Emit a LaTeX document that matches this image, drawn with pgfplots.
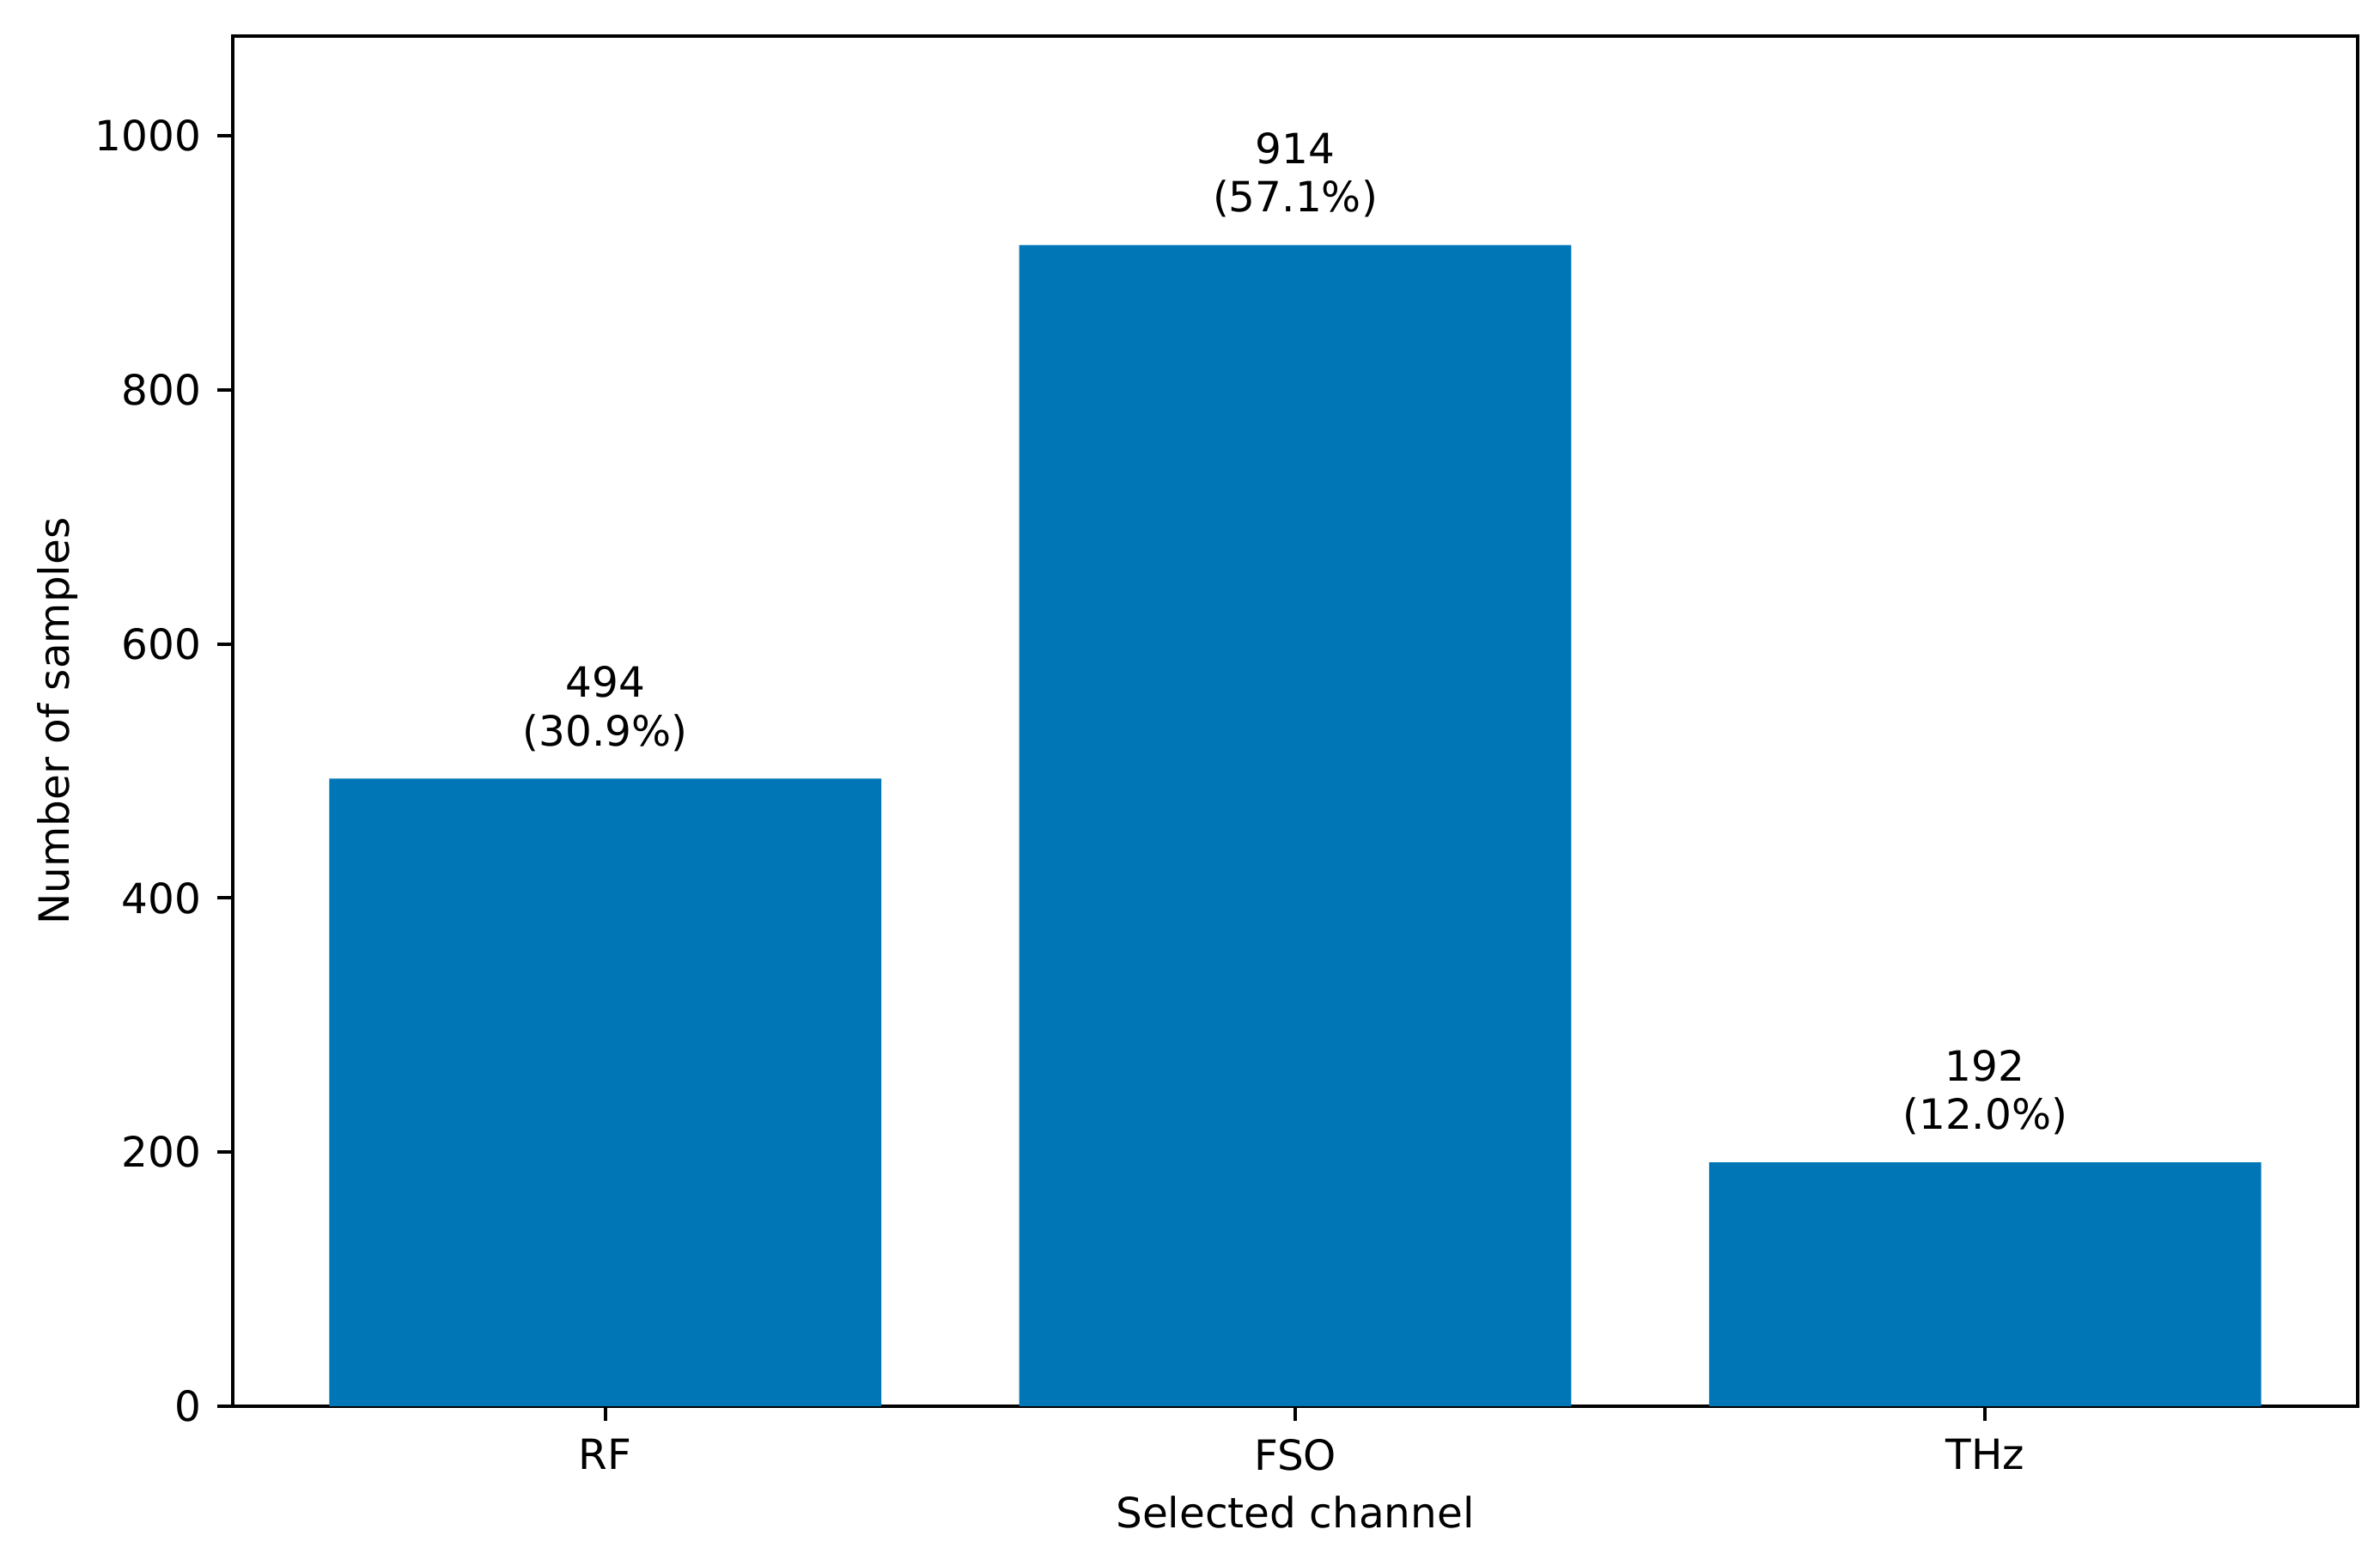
\documentclass[border=0pt]{standalone}
\usepackage{fontspec}
\setmainfont{DejaVu Sans}
\usepackage{pgfplots}
\pgfplotsset{compat=1.18}
\definecolor{barblue}{RGB}{0,118,182}
\begin{document}
\begin{tikzpicture}
\begin{axis}[
  at={(0,0)}, anchor=south west,
  scale only axis, width=494.8pt, height=319pt,
  xmin=-0.54, xmax=2.54, ymin=0, ymax=1078.6,
  xtick={0,1,2}, xticklabels={RF,FSO,THz},
  ytick={0,200,400,600,800,1000},
  tick align=outside, major tick length=3.5pt,
  tick pos=left,
  axis line style={line width=0.8pt},
  every tick/.style={black, line width=0.8pt},
  /pgf/number format/assume math mode=true,
  /pgf/number format/1000 sep={},
  ticklabel style={font=\fontsize{9.7}{11.6}\selectfont},
  yticklabel style={anchor=east, inner sep=0pt, xshift=-3.7pt},
  xticklabel style={anchor=north, inner sep=0pt, yshift=-4pt},
  xlabel={Selected channel}, ylabel={Number of samples},
  label style={font=\fontsize{9.7}{11.6}\selectfont},
  xlabel style={at={(axis description cs:0.5,-0.08903)}, anchor=base, inner sep=0pt},
  ylabel style={at={(axis description cs:-0.0770,0.5)}, anchor=base, rotate=0, inner sep=0pt},
]
\addplot[ybar, bar width=0.8, fill=barblue, draw=none,
  point meta=explicit symbolic, nodes near coords,
  nodes near coords style={font=\fontsize{9.7}{11.3}\selectfont, align=center, anchor=south, inner sep=0pt, yshift=6.2pt, text=black}]
  coordinates {(0,494) [494\\(30.9\%)] (1,914) [914\\(57.1\%)] (2,192) [192\\(12.0\%)]};
\end{axis}
\pgfresetboundingbox
\path (-54.2pt,-35.8pt) rectangle (500pt,327.4pt);
\end{tikzpicture}
\end{document}
